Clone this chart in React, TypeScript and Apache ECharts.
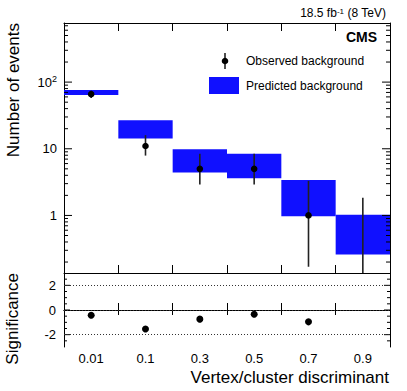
import React, { useEffect, useRef } from "react";
import * as echarts from "echarts";

// ---- data ----
const categories = ["0.01", "0.1", "0.3", "0.5", "0.7", "0.9"];
const predictedLow = [64, 14.2, 4.4, 3.6, 0.97, 0.26];
const predictedHigh = [76, 26.8, 9.8, 8.4, 3.4, 1.02];
const observed = [66, 11, 5, 5, 1, 0];
const observedLow = [58, 7.9, 2.9, 2.9, 0.17, 0];
const observedHigh = [74, 16, 8.4, 8.4, 3.3, 1.84];
const significance = [-0.42, -1.54, -0.74, -0.35, -0.96];

const logMajorTicks = [1, 10, 100];
const logMinorTicks = [0.2, 0.3, 0.4, 0.5, 0.6, 0.7, 0.8, 0.9, 2, 3, 4, 5, 6, 7, 8, 9, 20, 30, 40, 50, 60, 70, 80, 90, 200, 300, 400, 500, 600, 700];
const sigMajorTicks = [-2, 0, 2];
const sigMinorTicks = [-2.5, -1.5, -1, -0.5, 0.5, 1, 1.5, 2.5];
const sigGridLines = [-2, 0, 2];

const FONT = "Liberation Sans, Arial, Helvetica, sans-serif";
const BLUE = "#1010ff";

function tickRender(params: any, api: any) {
  const cs = params.coordSys;
  const y = api.coord([0, api.value(1)])[1];
  const len = api.value(2);
  const style = { stroke: "#000", lineWidth: 1 };
  return {
    type: "group",
    children: [
      { type: "line", shape: { x1: cs.x, y1: y, x2: cs.x + len, y2: y }, style },
      { type: "line", shape: { x1: cs.x + cs.width - len, y1: y, x2: cs.x + cs.width, y2: y }, style },
    ],
  };
}

export default function App() {
  const ref = useRef<HTMLDivElement>(null);
  useEffect(() => {
    if (!ref.current) return;
    const chart = echarts.init(ref.current, null, { renderer: "svg" });
    const axisLine = { show: true, lineStyle: { color: "#000", width: 1 } };
    const catAxis = (gridIndex: number, position: string, tickLen: number, showLabel: boolean) => ({
      type: "category",
      gridIndex,
      position,
      data: categories,
      boundaryGap: true,
      axisLine,
      axisTick: { show: true, inside: true, length: tickLen, lineStyle: { color: "#000" } },
      axisLabel: { show: showLabel, interval: 0, color: "#000", fontSize: 13, fontFamily: FONT, margin: 5 },
      splitLine: { show: false },
    });
    const logAxis = (position: string, showLabel: boolean) => ({
      type: "log",
      logBase: 10,
      gridIndex: 0,
      position,
      min: 0.137,
      max: 770,
      axisLine,
      axisTick: { show: false },
      minorTick: { show: false },
      splitLine: { show: false },
      axisLabel: {
        show: showLabel,
        showMinLabel: false,
        showMaxLabel: false,
        color: "#000",
        fontFamily: FONT,
        fontSize: 13,
        margin: 7,
        formatter: (v: number) => {
          const e = Math.round(Math.log10(v));
          if (e >= 2) return "{a|10}{s|" + e + "}";
          return "{a|" + Math.pow(10, e) + "}";
        },
        rich: {
          a: { fontSize: 13, fontFamily: FONT, color: "#000", lineHeight: 15 },
          s: { fontSize: 9, fontFamily: FONT, color: "#000", verticalAlign: "top", lineHeight: 9 },
        },
      },
    });
    const sigAxis = (position: string, showLabel: boolean) => ({
      type: "value",
      gridIndex: 1,
      position,
      min: -3,
      max: 3,
      interval: 1,
      axisLine,
      axisTick: { show: false },
      splitLine: { show: false },
      axisLabel: {
        show: showLabel,
        showMinLabel: false,
        showMaxLabel: false,
        color: "#000",
        fontFamily: FONT,
        fontSize: 13,
        margin: 8,
        formatter: (v: number) => (Math.round(v) % 2 === 0 ? String(Math.round(v)) : ""),
      },
    });

    const option: any = {
      animation: false,
      backgroundColor: "#fff",
      grid: [
        { left: 64, top: 23, width: 326, height: 250 },
        { left: 64, top: 273, width: 326, height: 74 },
      ],
      xAxis: [
        catAxis(0, "bottom", 8, false),
        catAxis(0, "top", 8, false),
        catAxis(1, "bottom", 7, true),
        catAxis(1, "top", 5, false),
      ],
      yAxis: [logAxis("left", true), logAxis("right", false), sigAxis("left", true), sigAxis("right", false)],
      series: [
        {
          type: "custom",
          name: "Predicted background",
          xAxisIndex: 0,
          yAxisIndex: 0,
          clip: true,
          silent: true,
          encode: { x: 0, y: 2 },
          data: categories.map((_, i) => [i, predictedLow[i], predictedHigh[i]]),
          renderItem: (params: any, api: any) => {
            const i = api.value(0);
            const top = api.coord([i, api.value(2)]);
            const bot = api.coord([i, api.value(1)]);
            const w = api.size([1, 1])[0];
            return {
              type: "rect",
              shape: { x: top[0] - w / 2, y: top[1], width: w, height: bot[1] - top[1] },
              style: { fill: BLUE },
            };
          },
        },
        {
          type: "custom",
          name: "Observed background",
          xAxisIndex: 0,
          yAxisIndex: 0,
          clip: true,
          silent: true,
          encode: { x: 0, y: 1 },
          data: categories.map((_, i) => [i, observedHigh[i], observedLow[i], observed[i]]),
          renderItem: (params: any, api: any) => {
            const cs = params.coordSys;
            const i = api.value(0);
            const hi = api.coord([i, api.value(1)]);
            const lo = api.value(2);
            const obs = api.value(3);
            const yLo = lo > 0 ? api.coord([i, lo])[1] : cs.y + cs.height;
            const children: any[] = [
              { type: "line", shape: { x1: hi[0], y1: hi[1], x2: hi[0], y2: yLo }, style: { stroke: "#222", lineWidth: 1.6 } },
            ];
            if (obs > 0) {
              const p = api.coord([i, obs]);
              children.push({ type: "circle", shape: { cx: p[0], cy: p[1], r: 3.3 }, style: { fill: "#000" } });
            }
            return { type: "group", children };
          },
        },
        {
          type: "custom",
          xAxisIndex: 0,
          yAxisIndex: 0,
          silent: true,
          data: [...logMajorTicks.map((v) => [0, v, 8]), ...logMinorTicks.map((v) => [0, v, 4])],
          renderItem: tickRender,
        },
        {
          type: "custom",
          xAxisIndex: 2,
          yAxisIndex: 2,
          silent: true,
          data: [...sigMajorTicks.map((v) => [0, v, 6]), ...sigMinorTicks.map((v) => [0, v, 3])],
          renderItem: tickRender,
        },
        {
          type: "scatter",
          name: "Significance",
          xAxisIndex: 2,
          yAxisIndex: 2,
          symbol: "circle",
          symbolSize: 7,
          itemStyle: { color: "#000", opacity: 1 },
          silent: true,
          data: significance.map((v, i) => [i, v]),
          markLine: {
            silent: true,
            symbol: ["none", "none"],
            label: { show: false },
            lineStyle: { type: [1, 2], color: "#333", width: 1 },
            data: sigGridLines.map((v) => ({ yAxis: v })),
          },
        },
      ],
      graphic: [
        {
          type: "text",
          x: 386,
          y: 13,
          style: {
            text: "18.5 fb{s|-1} (8 TeV)",
            align: "right",
            verticalAlign: "middle",
            fontFamily: FONT,
            fontSize: 12,
            fill: "#000",
            rich: {
              s: { fontSize: 8, fontFamily: FONT, verticalAlign: "top", lineHeight: 8, fill: "#000" },
            },
          },
        },
        {
          type: "text",
          x: 377,
          y: 37,
          style: { text: "CMS", align: "right", verticalAlign: "middle", fontFamily: FONT, fontSize: 14, fontWeight: "bold", fill: "#000" },
        },
        { type: "line", shape: { x1: 225, y1: 53, x2: 225, y2: 69 }, style: { stroke: "#222", lineWidth: 1.6 } },
        { type: "circle", shape: { cx: 225, cy: 61, r: 3.3 }, style: { fill: "#000" } },
        {
          type: "text",
          x: 246,
          y: 61,
          style: { text: "Observed background", align: "left", verticalAlign: "middle", fontFamily: FONT, fontSize: 12, fill: "#000" },
        },
        { type: "rect", shape: { x: 209, y: 77, width: 30, height: 17 }, style: { fill: BLUE } },
        {
          type: "text",
          x: 246,
          y: 86,
          style: { text: "Predicted background", align: "left", verticalAlign: "middle", fontFamily: FONT, fontSize: 12, fill: "#000" },
        },
        {
          type: "text",
          x: 13,
          y: 23,
          rotation: Math.PI / 2,
          style: { text: "Number of events", align: "right", verticalAlign: "middle", fontFamily: FONT, fontSize: 17, fill: "#000" },
        },
        {
          type: "text",
          x: 12,
          y: 273,
          rotation: Math.PI / 2,
          style: { text: "Significance", align: "right", verticalAlign: "middle", fontFamily: FONT, fontSize: 17, fill: "#000" },
        },
        {
          type: "text",
          x: 389,
          y: 377,
          style: { text: "Vertex/cluster discriminant", align: "right", verticalAlign: "middle", fontFamily: FONT, fontSize: 17, fill: "#000" },
        },
      ],
    };
    chart.setOption(option);
    return () => chart.dispose();
  }, []);
  return <div ref={ref} style={{ width: 407, height: 391, position: "absolute", left: 0, top: 0 }} />;
}
